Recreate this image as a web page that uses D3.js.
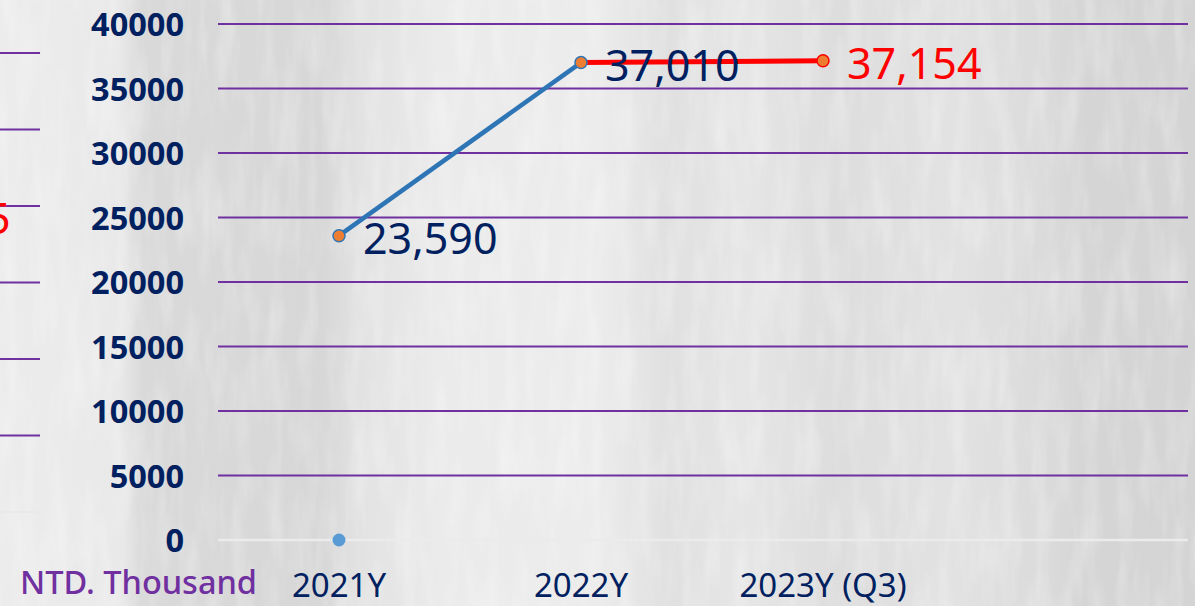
<!DOCTYPE html>
<html>
<head>
<meta charset="utf-8">
<script src="https://cdn.jsdelivr.net/npm/d3@7"></script>
<style>
  html, body { margin: 0; padding: 0; background: #e2e2e2; }
  svg { display: block; font-family: "Noto Sans", "DejaVu Sans", sans-serif; }
</style>
</head>
<body>
<div id="chart"></div>
<script>
// chart values
const categories = ["2021Y", "2022Y", "2023Y (Q3)"];
const blueSeries = [23590, 37010, null];
const redSeries = [null, 37010, 37154];
const zeroSeries = [0, null, null];
const yTicks = [0, 5000, 10000, 15000, 20000, 25000, 30000, 35000, 40000];
const unitLabel = "NTD. Thousand";
// cut-off neighbour chart on the left edge
const ghostTicks = [0, 1, 2, 3, 4, 5, 6];

const W = 1195, H = 606;
const plot = {left: 218, right: 1188, top: 24, bottom: 540};

const svg = d3.select("#chart").append("svg")
    .attr("width", W)
    .attr("height", H);

// background - rough imitation of the washed out photo
const defs = svg.append("defs");
const bg = defs.append("linearGradient").attr("id", "bg").attr("x1", 0).attr("x2", 1).attr("y1", 0).attr("y2", 0);
[[0, "#ececec"], [0.1, "#e9e9e9"], [0.12, "#d9d9d9"], [0.27, "#d7d7d7"], [0.3, "#e2e2e2"],
 [0.37, "#ebebeb"], [0.5, "#ececec"], [0.56, "#e0e0e0"], [0.62, "#e6e6e6"], [0.7, "#dddddd"],
 [0.8, "#e2e2e2"], [0.88, "#dadada"], [0.91, "#d5d5d5"], [1, "#d4d4d4"]]
  .forEach(s => bg.append("stop").attr("offset", s[0]).attr("stop-color", s[1]));
svg.append("rect").attr("width", W).attr("height", H).attr("fill", "url(#bg)");

const tex = defs.append("filter").attr("id", "tex");
tex.append("feTurbulence").attr("type", "fractalNoise").attr("baseFrequency", "0.06 0.012").attr("numOctaves", 3).attr("seed", 7);
tex.append("feColorMatrix").attr("type", "matrix")
    .attr("values", "0 0 0 0 1  0 0 0 0 1  0 0 0 0 1  0 0 0 1.1 -0.45");
svg.append("rect").attr("width", W).attr("height", H).attr("filter", "url(#tex)").attr("opacity", 0.55);

// scales
const x = d3.scaleBand().domain(categories).range([plot.left, plot.left + 242 * 3]);
const cx = d => x(d) + x.bandwidth() / 2;
const y = d3.scaleLinear().domain([0, 40000]).range([plot.bottom, plot.top]);

// neighbour chart remains
const gy = d3.scaleLinear().domain([0, 6]).range([512, 53]);
svg.append("g").selectAll("line")
  .data(ghostTicks)
  .join("line")
    .attr("x1", 0).attr("x2", 40)
    .attr("y1", d => gy(d)).attr("y2", d => gy(d))
    .attr("stroke", d => d === 0 ? "#e9e9e9" : "#7030a0")
    .attr("stroke-width", 1.8);
svg.append("text")
    .attr("x", -14).attr("y", 234)
    .attr("font-size", 43).attr("fill", "#ff0000")
    .text("5");

// gridlines
svg.append("g").selectAll("line")
  .data(yTicks)
  .join("line")
    .attr("x1", plot.left).attr("x2", plot.right)
    .attr("y1", d => y(d)).attr("y2", d => y(d))
    .attr("stroke", d => d === 0 ? "#ebebeb" : "#7030a0")
    .attr("stroke-width", d => d === 0 ? 2.5 : 2);

// y axis
const yAxis = svg.append("g")
    .attr("transform", "translate(184,0)")
    .call(d3.axisLeft(y).tickValues(yTicks).tickSize(0).tickPadding(0).tickFormat(d3.format("d")));
yAxis.select(".domain").remove();
yAxis.selectAll("text")
    .attr("font-family", "'Noto Sans', sans-serif")
    .attr("font-size", 32.5)
    .attr("font-weight", "bold")
    .attr("fill", "#002060")
    .attr("dy", "0.36em");

// x axis
const xAxis = svg.append("g")
    .call(d3.axisBottom(x).tickSize(0));
xAxis.select(".domain").remove();
xAxis.selectAll("text")
    .attr("font-family", "'Noto Sans', sans-serif")
    .attr("font-size", 33)
    .attr("fill", "#002060")
    .attr("y", 597)
    .attr("dy", 0);

svg.append("text")
    .attr("x", 20).attr("y", 594)
    .attr("font-size", 32.5)
    .attr("font-weight", 500)
    .attr("fill", "#7030a0")
    .text(unitLabel);

// lines
const pts = s => categories.map((c, i) => ({c: c, v: s[i]}));
const line = d3.line()
    .defined(d => d.v != null)
    .x(d => cx(d.c))
    .y(d => y(d.v));

svg.append("path")
    .datum(pts(blueSeries))
    .attr("fill", "none")
    .attr("stroke", "#2e75b6")
    .attr("stroke-width", 4.5)
    .attr("d", line);

svg.append("path")
    .datum(pts(redSeries))
    .attr("fill", "none")
    .attr("stroke", "#ff0000")
    .attr("stroke-width", 5)
    .attr("d", line);

// zero point
svg.append("g").selectAll("circle")
  .data(pts(zeroSeries).filter(d => d.v != null))
  .join("circle")
    .attr("cx", d => cx(d.c))
    .attr("cy", d => y(d.v))
    .attr("r", 6.5)
    .attr("fill", "#5b9bd5");

// markers
svg.append("g").selectAll("circle")
  .data(pts(blueSeries).filter(d => d.v != null))
  .join("circle")
    .attr("cx", d => cx(d.c))
    .attr("cy", d => y(d.v))
    .attr("r", 6)
    .attr("fill", "#ed7d31")
    .attr("stroke", "#2e75b6")
    .attr("stroke-width", 1.5);

svg.append("g").selectAll("circle")
  .data(pts(redSeries).filter((d, i) => d.v != null && i > 1))
  .join("circle")
    .attr("cx", d => cx(d.c))
    .attr("cy", d => y(d.v))
    .attr("r", 6)
    .attr("fill", "#ed7d31")
    .attr("stroke", "#ff0000")
    .attr("stroke-width", 1.5);

// value labels
const fmt = d3.format(",");
const labels = [
  {c: categories[0], v: blueSeries[0], col: "#002060"},
  {c: categories[1], v: blueSeries[1], col: "#002060"},
  {c: categories[2], v: redSeries[2], col: "#ff0000"}
];
svg.append("g").selectAll("text")
  .data(labels)
  .join("text")
    .attr("x", d => cx(d.c) + 24)
    .attr("y", d => y(d.v) + 18)
    .attr("font-size", 43)
    .attr("fill", d => d.col)
    .text(d => fmt(d.v));
</script>
</body>
</html>
